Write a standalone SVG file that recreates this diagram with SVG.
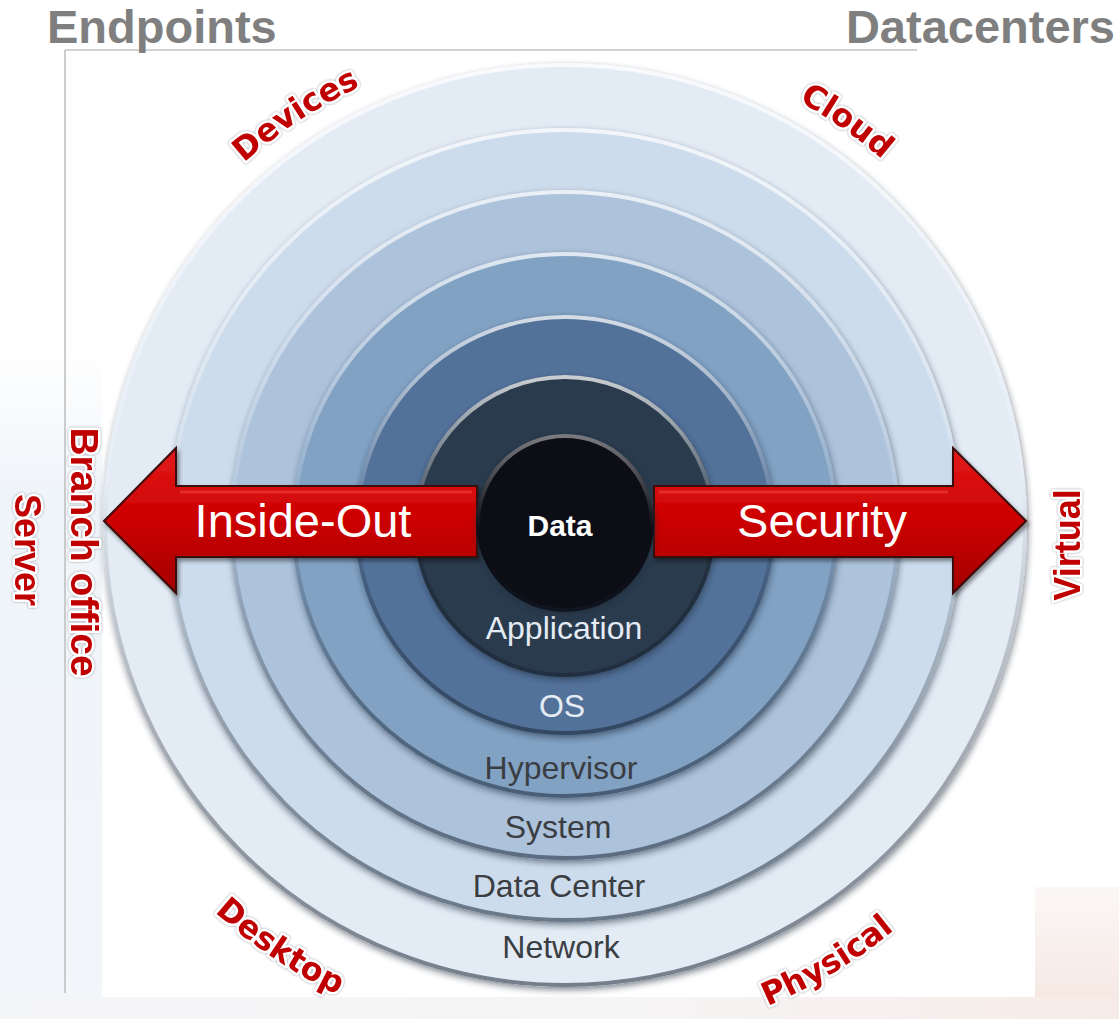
<svg xmlns="http://www.w3.org/2000/svg" xmlns:xlink="http://www.w3.org/1999/xlink" width="1119" height="1019" viewBox="0 0 1119 1019">
<style>
.hdr{font-family:"Liberation Sans",Arial,sans-serif;font-weight:bold;font-size:47px;fill:#7f7f7f}
.lbl{font-family:"DejaVu Sans",Verdana,sans-serif;font-weight:bold;font-size:32px;fill:#c00000;stroke:#ffffff;stroke-width:5px;stroke-linejoin:round;paint-order:stroke;filter:url(#halo)}
.vlbl{font-family:"Liberation Sans",Arial,sans-serif;font-weight:bold;fill:#c00000;stroke:#ffffff;stroke-width:5px;stroke-linejoin:round;paint-order:stroke;filter:url(#halo)}
.ring{filter:url(#sh)}
.bev{fill:none;stroke:url(#bevel);stroke-width:4px}
.rt{font-family:"Liberation Sans",Arial,sans-serif;font-size:32px;text-anchor:middle}
.dark{fill:#3a3d42}
.light{fill:#e4ebf4}
.arrow{fill:url(#red);stroke:#3a0808;stroke-width:2px;stroke-linejoin:miter;filter:url(#ash)}
.at{font-family:"Liberation Sans",Arial,sans-serif;font-size:47px;fill:#ffffff;text-anchor:middle}
</style>
<defs>
<filter id="sh" x="-10%" y="-10%" width="120%" height="120%">
<feGaussianBlur in="SourceAlpha" stdDeviation="3"/>
<feOffset dx="1" dy="3" result="b"/>
<feFlood flood-color="#1d2a3a" flood-opacity="0.55"/>
<feComposite in2="b" operator="in"/>
<feMerge><feMergeNode/><feMergeNode in="SourceGraphic"/></feMerge>
</filter>
<filter id="ash" x="-10%" y="-20%" width="120%" height="140%">
<feGaussianBlur in="SourceAlpha" stdDeviation="2"/>
<feOffset dx="2" dy="3" result="b"/>
<feFlood flood-color="#000000" flood-opacity="0.45"/>
<feComposite in2="b" operator="in"/>
<feMerge><feMergeNode/><feMergeNode in="SourceGraphic"/></feMerge>
</filter>
<filter id="halo" x="-20%" y="-20%" width="140%" height="140%">
<feDropShadow dx="0" dy="0" stdDeviation="1" flood-color="#8a8f96" flood-opacity="0.9"/>
</filter>
<linearGradient id="bevel" x1="0" y1="0" x2="0" y2="1">
<stop offset="0" stop-color="#ffffff" stop-opacity="0.75"/>
<stop offset="0.45" stop-color="#ffffff" stop-opacity="0.1"/>
<stop offset="0.55" stop-color="#000000" stop-opacity="0.1"/>
<stop offset="1" stop-color="#1a2636" stop-opacity="0.55"/>
</linearGradient>
<linearGradient id="red" x1="0" y1="0" x2="0" y2="1">
<stop offset="0" stop-color="#e41a1a"/>
<stop offset="0.5" stop-color="#cc0000"/>
<stop offset="1" stop-color="#a30000"/>
</linearGradient>
<linearGradient id="leftbg" x1="0" y1="0" x2="0" y2="1">
<stop offset="0" stop-color="#ffffff"/>
<stop offset="0.35" stop-color="#ffffff"/>
<stop offset="0.5" stop-color="#eff4f9"/>
<stop offset="1" stop-color="#f2f6fa"/>
</linearGradient>
<linearGradient id="botbg" x1="0" y1="0" x2="1" y2="0">
<stop offset="0" stop-color="#f4f5f8"/>
<stop offset="0.6" stop-color="#f6f4f4"/>
<stop offset="1" stop-color="#f6ebe7"/>
</linearGradient>
<linearGradient id="rbbg" x1="0" y1="0" x2="0" y2="1">
<stop offset="0" stop-color="#fbf7f6"/>
<stop offset="1" stop-color="#f6e9e4"/>
</linearGradient>
<path id="arcTop" d="M 81,525 A 484 484 0 0 1 1049,525"/>
<path id="arcBot" d="M 43,525 A 522 522 0 0 0 1087,525"/>
</defs>

<g id="background">
<rect x="0" y="0" width="1119" height="1019" fill="#ffffff"/>
<rect x="0" y="0" width="102" height="997" fill="url(#leftbg)"/>
<rect x="1035" y="887" width="84" height="110" fill="url(#rbbg)"/>
<rect x="0" y="997" width="1119" height="22" fill="url(#botbg)"/>
<line x1="65" y1="50" x2="917" y2="50" stroke="#d2d2d2" stroke-width="2"/>
<line x1="65" y1="50" x2="65" y2="993" stroke="#bdbdbd" stroke-width="1.5"/>
</g>

<g id="headers">
<text class="hdr" x="47" y="43">Endpoints</text>
<text class="hdr" x="1115" y="43" text-anchor="end">Datacenters</text>
</g>

<g id="ring-network">
<circle class="ring" cx="565" cy="525" r="462" fill="#e3ebf5"/>
<circle class="bev" cx="565" cy="525" r="460"/>
<text class="rt dark" x="561" y="958">Network</text>
</g>
<g id="ring-datacenter">
<circle class="ring" cx="565" cy="525" r="397" fill="#cddcec"/>
<circle class="bev" cx="565" cy="525" r="395"/>
<text class="rt dark" x="559" y="897">Data Center</text>
</g>
<g id="ring-system">
<circle class="ring" cx="565" cy="525" r="335" fill="#adc2db"/>
<circle class="bev" cx="565" cy="525" r="333"/>
<text class="rt dark" x="558" y="838">System</text>
</g>
<g id="ring-hypervisor">
<circle class="ring" cx="565" cy="525" r="273" fill="#82a2c4"/>
<circle class="bev" cx="565" cy="525" r="271"/>
<text class="rt dark" x="561" y="779">Hypervisor</text>
</g>
<g id="ring-os">
<circle class="ring" cx="565" cy="525" r="210" fill="#52729a"/>
<circle class="bev" cx="565" cy="525" r="208"/>
<text class="rt light" x="562" y="717">OS</text>
</g>
<g id="ring-application">
<circle class="ring" cx="565" cy="526" r="151" fill="#2c3b4e"/>
<circle class="bev" cx="565" cy="526" r="149"/>
<text class="rt light" x="564" y="639">Application</text>
</g>

<g id="arrows">
<polygon class="arrow" points="104,521 176,448 176,486 477,486 477,557 176,557 176,593"/>
<polygon class="arrow" points="1026,521 953,448 953,486 654,486 654,557 953,557 953,593"/>
<polyline points="180,492 472,492" fill="none" stroke="#ff5a5a" stroke-opacity="0.4" stroke-width="3"/>
<polyline points="659,492 948,492" fill="none" stroke="#ff5a5a" stroke-opacity="0.4" stroke-width="3"/>
<text class="at" x="303" y="537">Inside-Out</text>
<text class="at" x="822" y="537">Security</text>
</g>

<g id="node-data">
<circle class="ring" cx="565" cy="523" r="89" fill="#0d1116"/>
<circle class="bev" cx="565" cy="523" r="87" stroke-opacity="0.6"/>
<text x="560" y="536" text-anchor="middle" font-family="Liberation Sans, Arial, sans-serif" font-weight="bold" font-size="30" fill="#ffffff">Data</text>
</g>

<g id="labels">
<text class="lbl" text-anchor="middle"><textPath xlink:href="#arcTop" href="#arcTop" startOffset="479">Devices</textPath></text>
<text class="lbl" text-anchor="middle"><textPath xlink:href="#arcTop" href="#arcTop" startOffset="1055">Cloud</textPath></text>
<text class="lbl" text-anchor="middle"><textPath xlink:href="#arcBot" href="#arcBot" startOffset="510">Desktop</textPath></text>
<text class="lbl" text-anchor="middle"><textPath xlink:href="#arcBot" href="#arcBot" startOffset="1102">Physical</textPath></text>
<text class="vlbl" font-size="39" text-anchor="middle" transform="translate(71,552) rotate(90)">Branch office</text>
<text class="vlbl" font-size="36" text-anchor="middle" transform="translate(15,550) rotate(90)">Server</text>
<text class="vlbl" font-size="36" text-anchor="middle" transform="translate(1080,545) rotate(-90)">Virtual</text>
</g>
</svg>
